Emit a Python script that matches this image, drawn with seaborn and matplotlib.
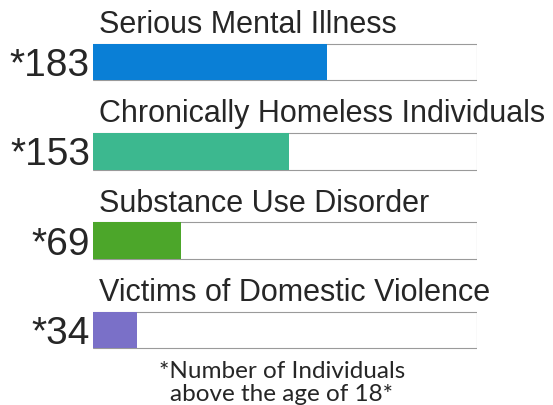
import matplotlib
matplotlib.use("Agg")
import matplotlib.pyplot as plt
import seaborn as sns
import pandas as pd
from matplotlib import transforms

categories = ["Serious Mental Illness", "Chronically Homeless Individuals",
              "Substance Use Disorder", "Victims of Domestic Violence"]
values = [183, 153, 69, 34]
value_labels = ["*183", "*153", "*69", "*34"]
scale_max = 300
colors = ["#0a7fd6", "#3cb88f", "#4ca62a", "#7a70c8"]
footnote = "*Number of Individuals\nabove the age of 18*"

sns.set_theme(style="white")
plt.rcParams['font.family'] = ['Liberation Sans', 'DejaVu Sans']

df = pd.DataFrame({"category": categories, "value": values,
                   "full": [scale_max] * len(categories)})

fig = plt.figure(figsize=(5.53, 4.06), dpi=100)
ax = fig.add_axes([93 / 553, 0, 384 / 553, 1])

sns.barplot(data=df, y="category", x="full", orient="h", ax=ax,
            color="white", edgecolor="#9a9a9a", linewidth=0.8, width=0.41,
            saturation=1)
sns.barplot(data=df, y="category", x="value", orient="h", ax=ax,
            hue="category", palette=colors, legend=False, width=0.41,
            linewidth=0, saturation=1)

ax.set_xlim(0, scale_max)
ax.set_ylim(3.84, -0.705)
ax.axis("off")

for i, (cat, lab) in enumerate(zip(categories, value_labels)):
    ax.text(4.5, i - 0.336, cat, fontsize=22, color="#262626",
            ha="left", va="baseline")
    off = transforms.offset_copy(ax.transData, fig=fig, x=-3, y=0, units="dots")
    ax.text(0, i + 0.146, lab, fontsize=28, color="#262626",
            ha="right", va="baseline", transform=off)

fig.text(282 / 553, 1 - 401 / 406, footnote, fontsize=17.5, color="#262626",
         family=["Lato", "DejaVu Sans"], ha="center", va="baseline",
         linespacing=1.1, multialignment="center")

fig.savefig("out.png", dpi=100, facecolor="white")
